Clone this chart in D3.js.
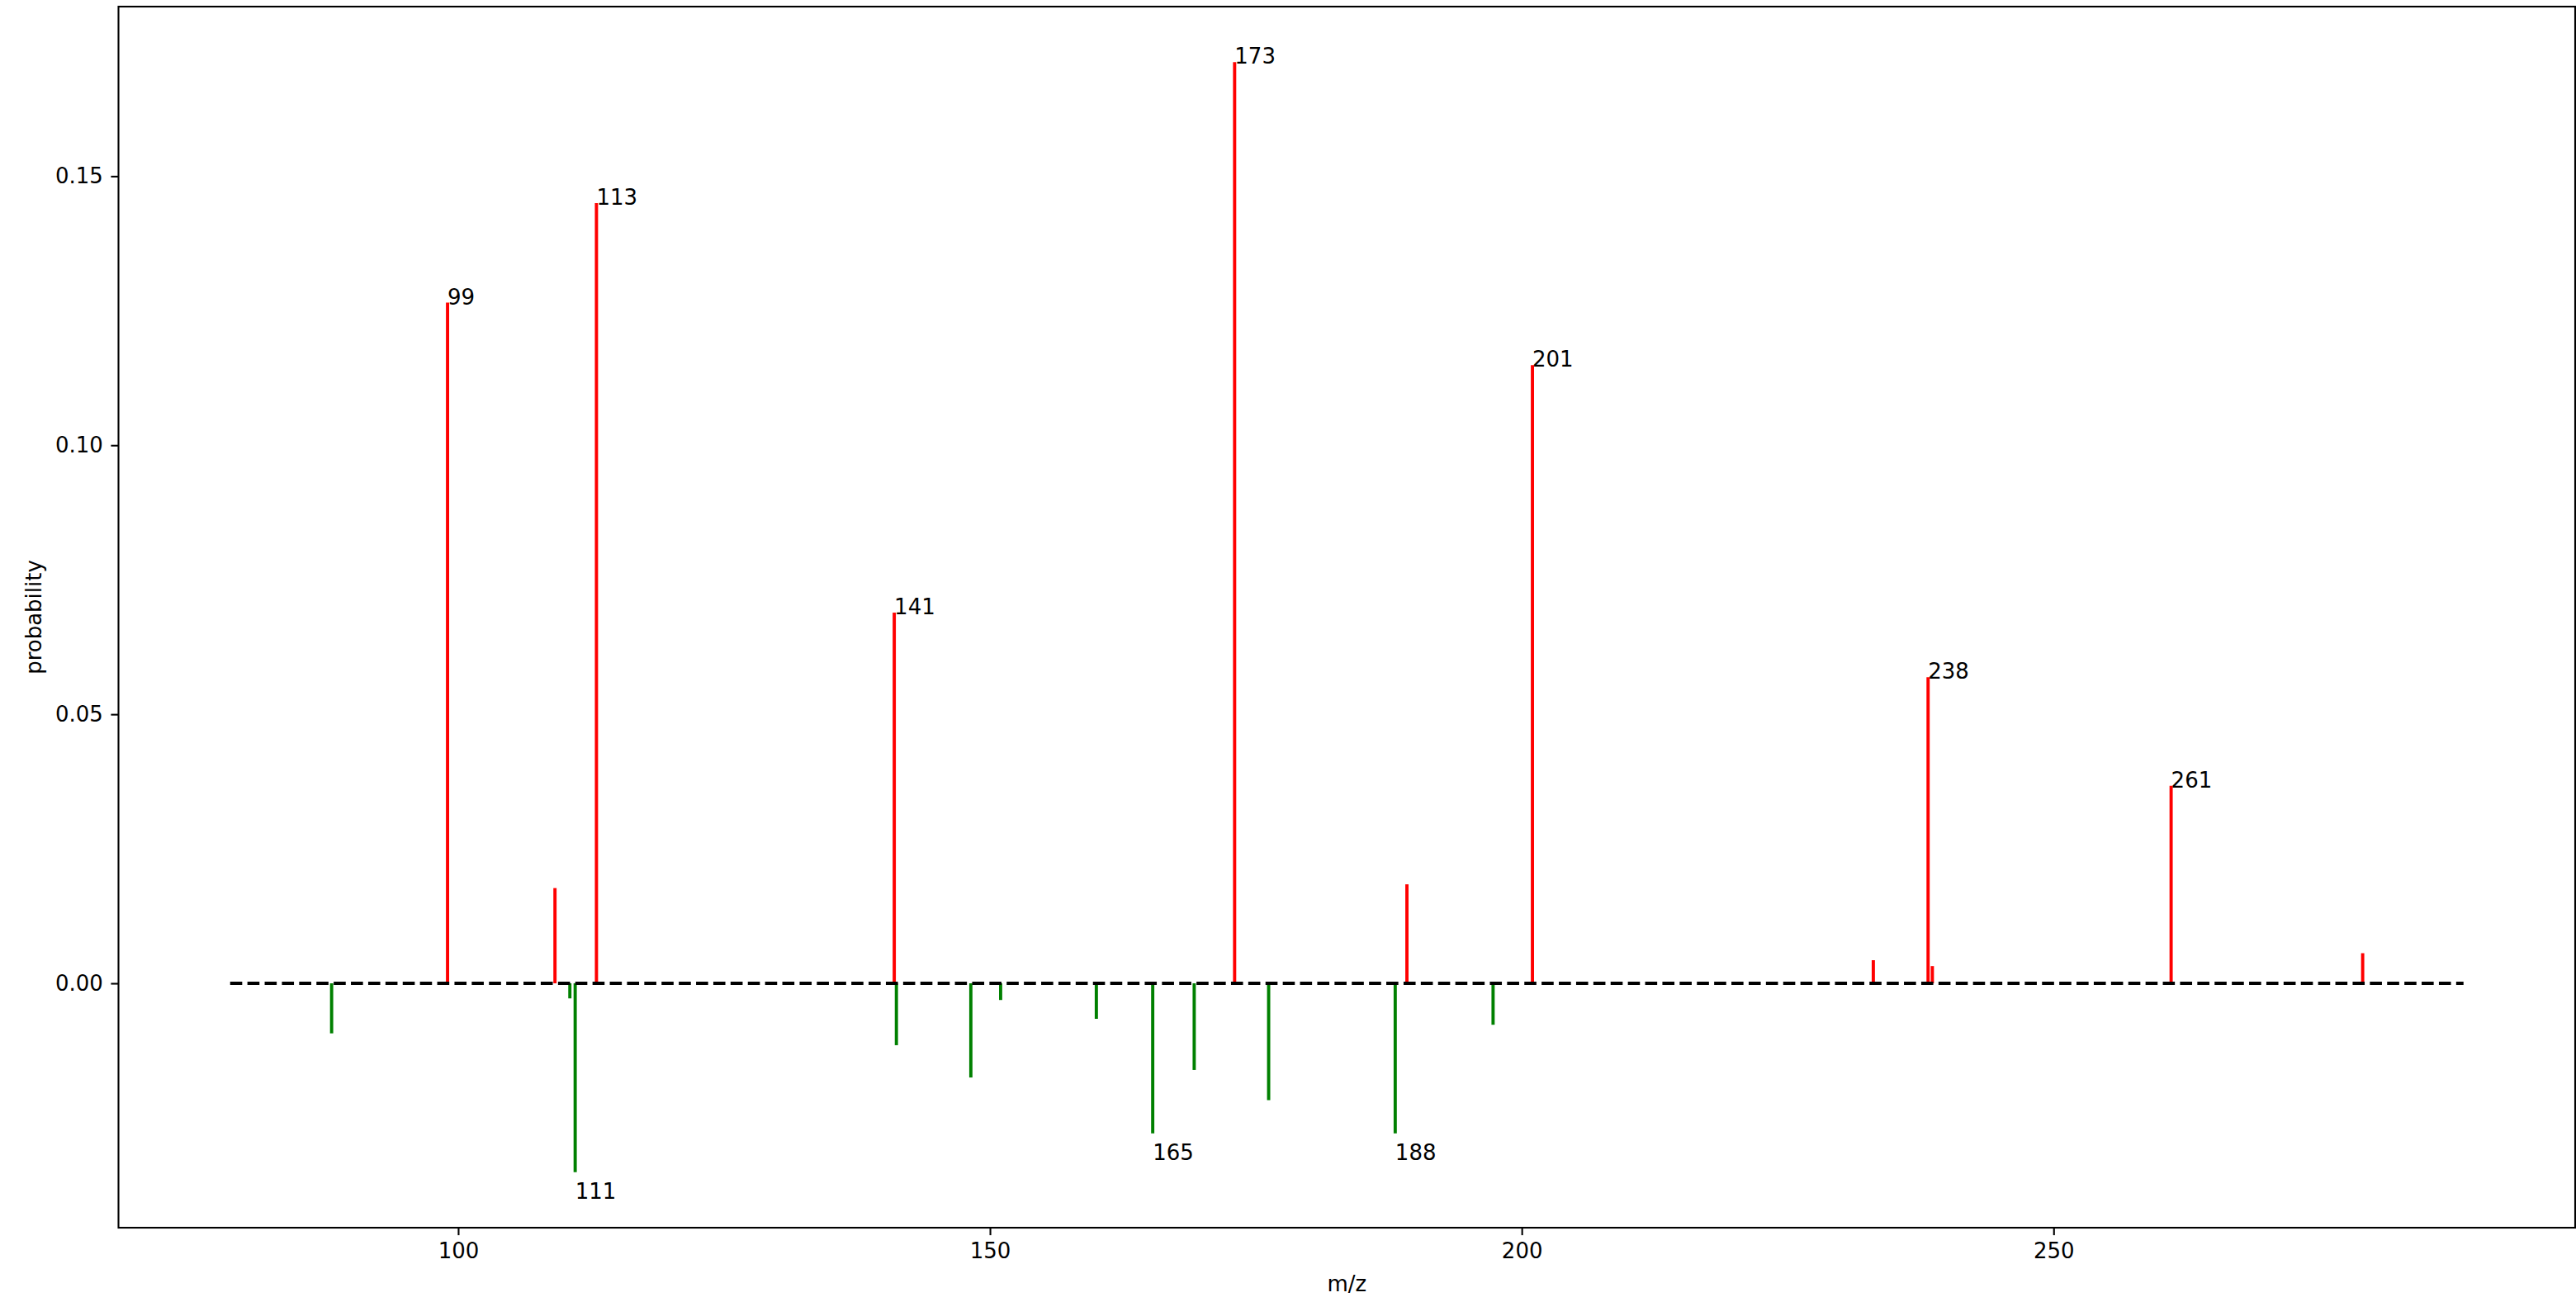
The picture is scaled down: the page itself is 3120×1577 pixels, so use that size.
<!DOCTYPE html>
<html>
<head>
<meta charset="utf-8">
<script src="https://cdn.jsdelivr.net/npm/d3@7"></script>
<style>
  html, body { margin: 0; padding: 0; background: #fff; }
  svg { display: block; }
  text { font-family: "DejaVu Sans", sans-serif; }
</style>
</head>
<body>
<svg id="chart" width="3120" height="1577"></svg>
<script>
// ---- data ----
const redMz     = [99.0, 109.1, 113.0, 141.0, 173.0, 189.2, 201.0, 233.05, 238.2, 238.6, 261.05, 279.06];
const redProb   = [0.1265, 0.0177, 0.1450, 0.0689, 0.1712, 0.0184, 0.1149, 0.0043, 0.0569, 0.0032, 0.0367, 0.0056];
const redLabels = ["99", null, "113", "141", "173", null, "201", null, "238", null, "261", null];

const greenMz     = [88.1, 110.5, 111.0, 141.2, 148.2, 151.0, 160.0, 165.3, 169.2, 176.2, 188.1, 197.3];
const greenProb   = [-0.0093, -0.0028, -0.0351, -0.0115, -0.0175, -0.0031, -0.0066, -0.0279, -0.0161, -0.0217, -0.0279, -0.0077];
const greenLabels = [null, null, "111", null, null, null, null, "165", null, null, "188", null];

const baselineRange = [78.56, 288.54];   // extent of the dashed zero line (m/z)
const xTicks = [100, 150, 200, 250];
const yTicks = [0.00, 0.05, 0.10, 0.15];
const xLabel = "m/z";
const yLabel = "probability";

// ---- layout ----
const W = 3120, H = 1577;
const plot = { left: 143.5, right: 3119, top: 8, bottom: 1487 };
const fontSize = 26;
const lw = 3.9;

const svg = d3.select("#chart");
svg.append("rect").attr("width", W).attr("height", H).attr("fill", "#fff");

// 5% margins like matplotlib autoscale
const allX = [...redMz, ...greenMz, ...baselineRange];
const allY = [...redProb, ...greenProb, 0];
const [x0, x1] = d3.extent(allX);
const [y0, y1] = d3.extent(allY);
const mx = (x1 - x0) * 0.05, my = (y1 - y0) * 0.05;

const x = d3.scaleLinear().domain([x0 - mx, x1 + mx]).range([plot.left, plot.right]);
const y = d3.scaleLinear().domain([y0 - my, y1 + my]).range([plot.bottom, plot.top]);

const g = svg.append("g");

// stems
const red = redMz.map((m, i) => ({ m, p: redProb[i], lab: redLabels[i] }));
const green = greenMz.map((m, i) => ({ m, p: greenProb[i], lab: greenLabels[i] }));

g.selectAll("line.red").data(red).enter().append("line")
  .attr("class", "red")
  .attr("x1", d => x(d.m)).attr("x2", d => x(d.m))
  .attr("y1", y(0)).attr("y2", d => y(d.p))
  .attr("stroke", "#ff0000").attr("stroke-width", lw);

g.selectAll("line.green").data(green).enter().append("line")
  .attr("class", "green")
  .attr("x1", d => x(d.m)).attr("x2", d => x(d.m))
  .attr("y1", y(0)).attr("y2", d => y(d.p))
  .attr("stroke", "#008000").attr("stroke-width", lw);

// dashed zero line
g.append("line")
  .attr("x1", x(baselineRange[0])).attr("x2", x(baselineRange[1]))
  .attr("y1", y(0)).attr("y2", y(0))
  .attr("stroke", "#000").attr("stroke-width", lw)
  .attr("stroke-dasharray", "14.6,6.3");

// peak labels
g.selectAll("text.rl").data(red.filter(d => d.lab)).enter().append("text")
  .attr("class", "rl")
  .attr("x", d => x(d.m)).attr("y", d => y(d.p) + 2)
  .attr("font-size", fontSize).attr("fill", "#000")
  .text(d => d.lab);

g.selectAll("text.gl").data(green.filter(d => d.lab)).enter().append("text")
  .attr("class", "gl")
  .attr("x", d => x(d.m)).attr("y", d => y(d.p) + 32)
  .attr("font-size", fontSize).attr("fill", "#000")
  .text(d => d.lab);

// axes
const tickLen = 9.1, tickPad = 9.6;
const xAxis = d3.axisBottom(x).tickValues(xTicks).tickFormat(d3.format("d"))
  .tickSize(tickLen).tickPadding(tickPad);
const yAxis = d3.axisLeft(y).tickValues(yTicks).tickFormat(d3.format(".2f"))
  .tickSize(tickLen).tickPadding(tickPad);

const gx = svg.append("g").attr("transform", `translate(0,${plot.bottom})`).call(xAxis);
const gy = svg.append("g").attr("transform", `translate(${plot.left},0)`).call(yAxis);
[gx, gy].forEach(a => {
  a.select(".domain").remove();
  a.selectAll(".tick line").attr("stroke", "#000").attr("stroke-width", 2.1);
  a.selectAll(".tick text").attr("font-size", fontSize).attr("fill", "#000")
    .attr("font-family", "DejaVu Sans, sans-serif");
});

// frame
svg.append("rect")
  .attr("x", plot.left).attr("y", plot.top)
  .attr("width", plot.right - plot.left).attr("height", plot.bottom - plot.top)
  .attr("fill", "none").attr("stroke", "#000").attr("stroke-width", 2.1);

// axis labels
svg.append("text")
  .attr("x", (plot.left + plot.right) / 2).attr("y", 1564)
  .attr("text-anchor", "middle").attr("font-size", fontSize).attr("fill", "#000")
  .text(xLabel);

svg.append("text")
  .attr("transform", `translate(50,${(plot.top + plot.bottom) / 2}) rotate(-90)`)
  .attr("text-anchor", "middle").attr("font-size", fontSize).attr("fill", "#000")
  .text(yLabel);
</script>
</body>
</html>
